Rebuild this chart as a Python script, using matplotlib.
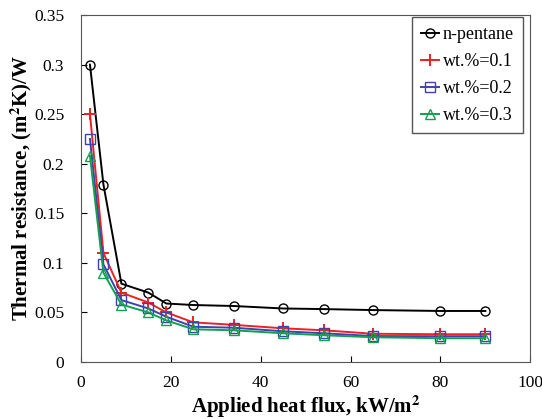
import numpy as np
import matplotlib
matplotlib.use('Agg')
import matplotlib.pyplot as plt

plt.rcParams['font.family'] = ['Liberation Serif', 'DejaVu Serif']
plt.rcParams['mathtext.fontset'] = 'stix'

# datos
flujo = [2, 5, 9, 15, 19, 25, 34, 45, 54, 65, 80, 90]
pentano = [0.300, 0.179, 0.079, 0.070, 0.059, 0.0575, 0.0565, 0.054, 0.0534, 0.0524, 0.0515, 0.0515]
wt01 = [0.250, 0.110, 0.070, 0.060, 0.050, 0.040, 0.0375, 0.034, 0.032, 0.0285, 0.028, 0.028]
wt02 = [0.225, 0.0985, 0.0625, 0.054, 0.0457, 0.0356, 0.0346, 0.031, 0.029, 0.0262, 0.026, 0.026]
wt03 = [0.208, 0.090, 0.058, 0.050, 0.042, 0.033, 0.032, 0.029, 0.027, 0.025, 0.024, 0.024]

fig = plt.figure(figsize=(5.42, 4.19), dpi=100)
ax = fig.add_axes([0.1494, 0.136, 0.829, 0.828])

ax.plot(flujo, pentano, color='black', marker='o', mfc='none', ms=6.5, lw=1.4, label='n-pentane')
ax.plot(flujo, wt01, color='#ee2020', marker='+', ms=8, mew=1.4, lw=1.4, label='wt.%=0.1')
ax.plot(flujo, wt02, color='#4040b0', marker='s', mfc='none', ms=6.5, lw=1.4, label='wt.%=0.2')
ax.plot(flujo, wt03, color='#10a050', marker='^', mfc='none', ms=6.5, lw=1.4, label='wt.%=0.3')

ax.set_xlim(0, 100)
ax.set_ylim(0, 0.35)
ax.set_xticks(np.arange(0, 101, 20))
ax.set_yticks(np.arange(0, 0.36, 0.05))
ax.set_yticklabels(['0', '0.05', '0.1', '0.15', '0.2', '0.25', '0.3', '0.35'])
ax.tick_params(direction='in', labelsize=12.5, length=4)
ax.tick_params(axis='x', pad=9)
ax.tick_params(axis='y', pad=12)
for s in ax.spines.values():
    s.set_color('#555555')

ax.set_xlabel('Applied heat flux, kW/m$^\\mathbf{2}$', fontsize=15, fontweight='bold', labelpad=2)
ax.set_ylabel('Thermal resistance, (m$^\\mathbf{2}$K)/W', fontsize=15, fontweight='bold', labelpad=0)

leg = ax.legend(loc='upper right', bbox_to_anchor=(0.984, 0.994), borderaxespad=0, fontsize=13,
                handlelength=1.0, handletextpad=0.2, borderpad=0.5, labelspacing=0.55,
                fancybox=False, edgecolor='#555555', framealpha=1)
leg.get_frame().set_linewidth(1.0)

plt.savefig('out.png', dpi=100)
